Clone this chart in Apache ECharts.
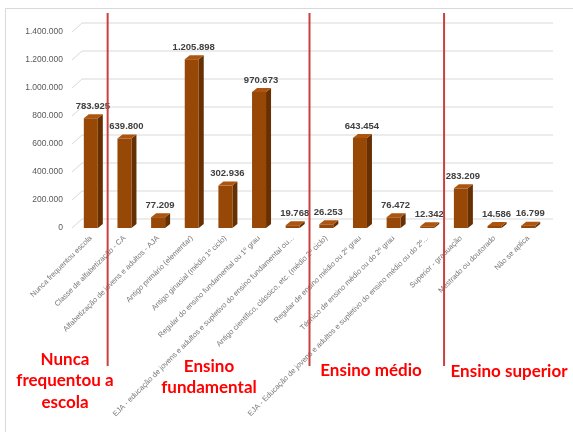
<!DOCTYPE html>
<html>
<head>
<meta charset="utf-8">
<script src="https://cdn.jsdelivr.net/npm/echarts@6/dist/echarts.min.js"></script>
<style>html,body{margin:0;padding:0;background:#fff}#c{width:573px;height:432px}</style>
</head>
<body>
<div id="c"></div>
<script>
const categories = [
  'Nunca frequentou escola',
  'Classe de alfabetização - CA',
  'Alfabetização de jovens e adultos - AJA',
  'Antigo primário (elementar)',
  'Antigo ginasial (médio 1º ciclo)',
  'Regular do ensino fundamental ou 1º grau',
  'EJA - educação de jovens e adultos e supletivo do ensino fundamental ou...',
  'Antigo científico, clássico, etc. (médio 2º ciclo)',
  'Regular de ensino médio ou 2º grau',
  'Técnico de ensino médio ou do 2º grau',
  'EJA - Educação de jovens e adultos e supletivo do ensino médio ou do 2º...',
  'Superior - graduação',
  'Mestrado ou doutorado',
  'Não se aplica'
];
const values = [783925, 639800, 77209, 1205898, 302936, 970673, 19768, 26253, 643454, 76472, 12342, 283209, 14586, 16799];
const yTicks = [0, 200000, 400000, 600000, 800000, 1000000, 1200000, 1400000];
const groupBoundaries = [0.5, 6.5, 10.5];
const groupLabels = [
  {text: 'Nunca\nfrequentou a\nescola', x: 65, y: 381},
  {text: 'Ensino\nfundamental', x: 209, y: 377},
  {text: 'Ensino médio', x: 371, y: 371},
  {text: 'Ensino superior', x: 509, y: 372}
];

function fmt(v) { return String(v).replace(/\B(?=(\d{3})+(?!\d))/g, '.'); }

const chart = echarts.init(document.getElementById('c'), null, {renderer: 'canvas'});

function renderGrid(params, api) {
  const cs = params.coordSys;
  const y = api.coord([0, api.value(1)])[1];
  return {
    type: 'polyline',
    shape: {points: [[cs.x - 2, y], [cs.x + 8, y - 9], [cs.x + cs.width + 8, y - 9]]},
    style: {stroke: '#d9d9d9', lineWidth: 1, fill: null}
  };
}

function renderBar(params, api) {
  const i = api.value(0), v = api.value(1);
  const top = api.coord([i, v]);
  const base = api.coord([i, 0]);
  const hw = 7, dx = 5, dy = 4;
  const cx = top[0], yt = top[1], yb = base[1];
  return {
    type: 'group',
    children: [
      {type: 'polygon', shape: {points: [[cx + hw, yt], [cx + hw + dx, yt - dy], [cx + hw + dx, yb - dy], [cx + hw, yb]]}, style: {fill: '#673003'}},
      {type: 'polygon', shape: {points: [[cx - hw, yt], [cx - hw + dx, yt - dy], [cx + hw + dx, yt - dy], [cx + hw, yt]]}, style: {fill: '#ad550e'}},
      {type: 'rect', shape: {x: cx - hw, y: yt, width: 2 * hw, height: Math.max(yb - yt, 0.5)}, style: {fill: '#974706'}},
      {type: 'text', x: cx + 2, y: yt - dy - 3, style: {text: fmt(v), align: 'center', verticalAlign: 'bottom', font: 'bold 9.5px "Liberation Sans", Arial, sans-serif', fill: '#404040'}}
    ]
  };
}

chart.setOption({
  animation: false,
  backgroundColor: '#ffffff',
  grid: {left: 74, right: 28, top: 32, bottom: 204, containLabel: false},
  xAxis: {
    type: 'category',
    data: categories,
    axisLine: {show: false},
    axisTick: {show: false},
    axisLabel: {interval: 0, rotate: 45, fontSize: 7.5, color: '#767676', margin: 9, fontFamily: '"Liberation Sans", Arial, sans-serif'}
  },
  yAxis: {
    type: 'value',
    min: 0, max: 1400000, interval: 200000,
    splitLine: {show: false},
    axisLine: {show: false},
    axisTick: {show: false},
    axisLabel: {formatter: fmt, fontSize: 8.5, color: '#595959', margin: 11, fontFamily: '"Liberation Sans", Arial, sans-serif'}
  },
  series: [
    {type: 'custom', name: 'grid', renderItem: renderGrid, data: yTicks.map(t => [0, t]), z: 1, silent: true},
    {type: 'custom', name: 'Pessoas', renderItem: renderBar, data: values.map((v, i) => [i, v]), z: 5}
  ]
});

const yTop = 13, yBottom = 366;
const graphics = [
  {type: 'rect', shape: {x: 5.5, y: 8.5, width: 700, height: 600}, style: {fill: null, stroke: '#d9d9d9', lineWidth: 1}, z: 0}
];
groupBoundaries.forEach(b => {
  const a = chart.convertToPixel({xAxisIndex: 0}, Math.floor(b));
  const c = chart.convertToPixel({xAxisIndex: 0}, Math.ceil(b));
  const x = (a + c) / 2;
  graphics.push({type: 'line', shape: {x1: x, y1: yTop, x2: x, y2: yBottom}, style: {stroke: '#cc3f3f', lineWidth: 2}, z: 10});
});
groupLabels.forEach(g => {
  graphics.push({type: 'text', x: g.x, y: g.y, style: {text: g.text, align: 'center', verticalAlign: 'middle', font: 'bold 17px Lato, "Liberation Sans", sans-serif', fill: '#ff0000', lineHeight: 21.5}, z: 10});
});
chart.setOption({graphic: graphics});
</script>
</body>
</html>
